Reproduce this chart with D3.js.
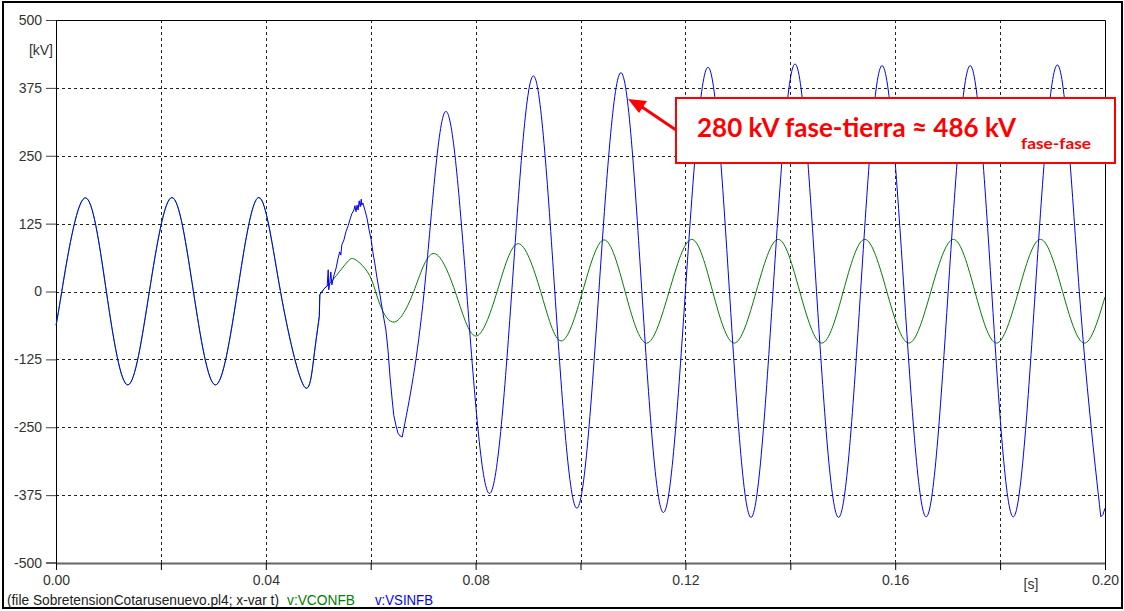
<!DOCTYPE html>
<html lang="en">

<head>
  <meta charset="UTF-8">
  <title>Sobretension</title>
  <style>
    body {
      margin: 0;
      background: #fff;
    }
  </style>
</head>

<body>

  <div id="chart"></div>

  <script src="https://cdnjs.cloudflare.com/ajax/libs/d3/7.8.5/d3.min.js"></script>
  <script>
    // axis ticks
    const yTicks = [-500, -375, -250, -125, 0, 125, 250, 375, 500]
    const xTicks = [0, 0.02, 0.04, 0.06, 0.08, 0.10, 0.12, 0.14, 0.16, 0.18, 0.20]
    const xLabels = [0, 0.04, 0.08, 0.12, 0.16, 0.20]

    // [t (s), v (kV)]
    // before the switching both signals are the same
    const preSwitch = [
      [0.0000, -62], [0.0011, 0], [0.0054, 172], [0.0096, 0], [0.0137, -172],
      [0.0178, 0], [0.0221, 173], [0.0262, 0], [0.0304, -172], [0.0346, 0],
      [0.0387, 173], [0.0428, 0], [0.0472, -173], [0.0491, -126], [0.0502, -46]
    ]

    // noisy part of v:VSINFB just after switching
    const vsinfbTransient = [
      [0.0502, -46], [0.0503, -6], [0.0511, 5], [0.0517, 10], [0.0519, 40],
      [0.0520, 3], [0.0522, 16], [0.0524, 36], [0.0526, 12], [0.0530, 30],
      [0.0534, 43], [0.0538, 62], [0.0541, 73], [0.0543, 67], [0.0545, 86],
      [0.0549, 95], [0.0553, 111], [0.0557, 121], [0.0561, 134], [0.0564, 143],
      [0.0568, 150], [0.0570, 158], [0.0572, 147], [0.0574, 159], [0.0576, 150],
      [0.0578, 167], [0.0580, 156], [0.0582, 170], [0.0583, 159], [0.0585, 163],
      [0.0589, 150], [0.0593, 135], [0.0597, 113], [0.0601, 95], [0.0604, 73],
      [0.0608, 51], [0.0612, 25], [0.0618, -8], [0.0623, -38], [0.0629, -71],
      [0.0633, -108], [0.0637, -159], [0.0641, -200], [0.0644, -228], [0.0648, -246],
      [0.0652, -261], [0.0656, -266], [0.0660, -268]
    ]

    const vsinfbPost = [
      [0.0660, -268], [0.0702, 0], [0.0742, 331], [0.0783, 0], [0.0826, -372],
      [0.0869, 0], [0.0910, 397], [0.0951, 0], [0.0993, -399], [0.1035, 0],
      [0.1077, 403], [0.1117, 0], [0.1158, -407], [0.1200, 0], [0.1243, 413],
      [0.1284, 0], [0.1325, -416], [0.1367, 0], [0.1409, 419], [0.1450, 0],
      [0.1492, -416], [0.1534, 0], [0.1575, 416], [0.1617, 0], [0.1659, -415],
      [0.1701, 0], [0.1743, 416], [0.1784, 0], [0.1825, -415], [0.1867, 0],
      [0.1910, 417], [0.1951, 0], [0.1992, -415]
    ]

    const vsinfbEnd = [
      [0.1992, -415], [0.1996, -411], [0.2000, -399]
    ]

    const vconfbTransient = [
      [0.0502, -46], [0.0503, -6], [0.0511, 5], [0.0522, 15]
    ]

    const vconfbPost = [
      [0.0522, 15], [0.0535, 30], [0.0556, 55], [0.0568, 60], [0.0584, 48],
      [0.0602, 21], [0.0618, -25], [0.0646, -56], [0.0682, 0], [0.0719, 70],
      [0.0761, 0], [0.0800, -82], [0.0841, 0], [0.0881, 88], [0.0924, 0],
      [0.0963, -91], [0.1004, 0], [0.1045, 95], [0.1085, 0], [0.1126, -95],
      [0.1169, 0], [0.1212, 96], [0.1252, 0], [0.1293, -95], [0.1335, 0],
      [0.1377, 96], [0.1418, 0], [0.1460, -95], [0.1501, 0], [0.1542, 96],
      [0.1584, 0], [0.1626, -95], [0.1668, 0], [0.1711, 96], [0.1752, 0],
      [0.1793, -95], [0.1835, 0], [0.1877, 96], [0.1919, 0], [0.1960, -95],
      [0.2000, -10]
    ]

    const W = 1124
    const H = 611
    const margin = { top: 20, right: 19, bottom: 48, left: 56 }
    const axisFont = '"Liberation Sans", Arial, sans-serif'
    const noteFont = 'Lato, "Open Sans", sans-serif'

    const x = d3.scaleLinear()
      .domain([0, 0.2])
      .range([margin.left, W - margin.right])

    const y = d3.scaleLinear()
      .domain([-500, 500])
      .range([H - margin.bottom, margin.top])

    const svg = d3.select('#chart')
      .append('svg')
      .attr('width', W)
      .attr('height', H)
      .style('font-family', axisFont)

    // outer frame
    svg.append('rect')
      .attr('x', 3)
      .attr('y', 2)
      .attr('width', W - 5)
      .attr('height', H - 5)
      .attr('fill', 'none')
      .attr('stroke', '#000')
      .attr('stroke-width', 2)

    // dashed grid
    const grid = svg.append('g')
      .attr('stroke', '#222')
      .attr('stroke-width', 1)
      .attr('stroke-dasharray', '3,3')

    grid.selectAll('.vgrid')
      .data(xTicks.slice(1, -1))
      .join('line')
      .attr('x1', d => Math.round(x(d)) + 0.5)
      .attr('x2', d => Math.round(x(d)) + 0.5)
      .attr('y1', y(500))
      .attr('y2', y(-500))

    grid.selectAll('.hgrid')
      .data(yTicks.slice(1, -1))
      .join('line')
      .attr('x1', x(0))
      .attr('x2', x(0.2))
      .attr('y1', d => Math.round(y(d)) + 0.5)
      .attr('y2', d => Math.round(y(d)) + 0.5)

    // y axis
    const yAxis = svg.append('g')
      .attr('transform', `translate(${x(0)}, 0)`)
      .call(d3.axisLeft(y)
        .tickValues(yTicks)
        .tickSize(10)
        .tickSizeOuter(0)
        .tickPadding(4)
        .tickFormat(d => String(d)))

    // x axis
    const xAxis = svg.append('g')
      .attr('transform', `translate(0, ${y(-500)})`)
      .call(d3.axisBottom(x)
        .tickValues(xTicks)
        .tickSize(7)
        .tickSizeOuter(0)
        .tickPadding(5)
        .tickFormat(d => xLabels.some(v => Math.abs(v - d) < 1e-9) ? d.toFixed(2) : ''))

    svg.selectAll('.tick text')
      .attr('font-size', 14)
      .attr('font-family', axisFont)
      .attr('fill', '#333')

    yAxis.select('.domain').attr('stroke', '#000')
    xAxis.select('.domain').attr('stroke', '#666').attr('stroke-width', 2)
    yAxis.selectAll('.tick line').attr('stroke', '#444')
    xAxis.selectAll('.tick line').attr('stroke', '#000')

    // the -500 tick joins the bottom line
    svg.append('line')
      .attr('x1', x(0) - 10)
      .attr('x2', x(0))
      .attr('y1', y(-500))
      .attr('y2', y(-500))
      .attr('stroke', '#666')
      .attr('stroke-width', 2)

    // top and right borders of the plot
    svg.append('path')
      .attr('d', `M${x(0)},${y(500) + 0.5}H${x(0.2) + 0.5}V${y(-500)}`)
      .attr('fill', 'none')
      .attr('stroke', '#000')

    // units
    svg.append('text')
      .attr('x', 53)
      .attr('y', 55)
      .attr('text-anchor', 'end')
      .attr('font-size', 14)
      .attr('fill', '#333')
      .text('[kV]')

    svg.append('text')
      .attr('x', 1031)
      .attr('y', 589)
      .attr('text-anchor', 'middle')
      .attr('font-size', 14)
      .attr('fill', '#333')
      .text('[s]')

    // curves
    const smooth = d3.line()
      .x(d => x(d[0]))
      .y(d => y(d[1]))
      .curve(d3.curveNatural)

    const straight = d3.line()
      .x(d => x(d[0]))
      .y(d => y(d[1]))

    const plot = svg.append('g')
      .attr('fill', 'none')
      .attr('stroke-width', 1)

    const green = '#008000'
    const blue = '#0000ff'

    plot.append('path').attr('d', smooth(preSwitch)).attr('stroke', green).attr('stroke-width', 0.8)
    plot.append('path').attr('d', straight(vconfbTransient)).attr('stroke', green)
    plot.append('path').attr('d', smooth(vconfbPost)).attr('stroke', green)

    plot.append('path').attr('d', smooth(preSwitch)).attr('stroke', blue)
    plot.append('path').attr('d', straight(vsinfbTransient)).attr('stroke', blue)
    plot.append('path').attr('d', smooth(vsinfbPost)).attr('stroke', blue)
    plot.append('path').attr('d', straight(vsinfbEnd)).attr('stroke', blue)

    // footer
    svg.append('text')
      .attr('x', 7)
      .attr('y', 605)
      .attr('font-size', 14)
      .attr('textLength', 272)
      .attr('lengthAdjust', 'spacingAndGlyphs')
      .attr('fill', '#222')
      .text('(file SobretensionCotarusenuevo.pl4; x-var t)')

    svg.append('text')
      .attr('x', 287)
      .attr('y', 605)
      .attr('font-size', 14)
      .attr('textLength', 68)
      .attr('lengthAdjust', 'spacingAndGlyphs')
      .attr('fill', green)
      .text('v:VCONFB')

    svg.append('text')
      .attr('x', 375)
      .attr('y', 605)
      .attr('font-size', 14)
      .attr('textLength', 58)
      .attr('lengthAdjust', 'spacingAndGlyphs')
      .attr('fill', blue)
      .text('v:VSINFB')

    // annotation
    const red = '#ff0000'
    const note = svg.append('g')

    note.append('line')
      .attr('x1', 676)
      .attr('y1', 130)
      .attr('x2', 642)
      .attr('y2', 107)
      .attr('stroke', red)
      .attr('stroke-width', 3)

    note.append('path')
      .attr('d', 'M628,99 L647,101 L639,113 Z')
      .attr('fill', red)

    note.append('rect')
      .attr('x', 676)
      .attr('y', 98)
      .attr('width', 439)
      .attr('height', 65)
      .attr('fill', '#fff')
      .attr('stroke', red)
      .attr('stroke-width', 2)

    note.append('text')
      .attr('x', 697)
      .attr('y', 137)
      .style('font-family', noteFont)
      .attr('font-weight', 'bold')
      .attr('font-size', 27)
      .attr('textLength', 319)
      .attr('lengthAdjust', 'spacingAndGlyphs')
      .attr('fill', red)
      .text('280 kV fase-tierra ≈ 486 kV')

    note.append('text')
      .attr('x', 1021)
      .attr('y', 149)
      .style('font-family', noteFont)
      .attr('font-weight', 'bold')
      .attr('font-size', 16)
      .attr('textLength', 70)
      .attr('lengthAdjust', 'spacingAndGlyphs')
      .attr('fill', red)
      .text('fase-fase')
  </script>
</body>

</html>
